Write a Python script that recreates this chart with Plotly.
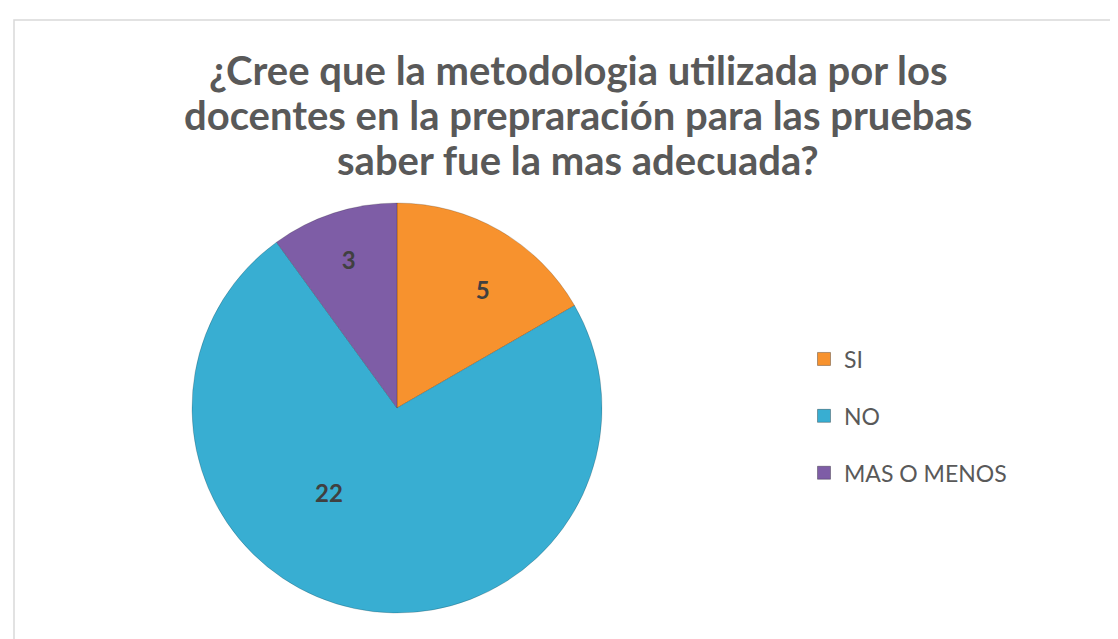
import plotly.graph_objects as go

# datos
categorias = ["SI", "NO", "MAS O MENOS"]
valores = [5, 22, 3]
colores = ["#F7922E", "#38AED2", "#7E5DA6"]

titulo_lineas = [
    "¿Cree que la metodologia utilizada por los",
    "docentes en la prepraración para las pruebas",
    "saber fue la mas adecuada?",
]

W, H = 1118, 639
NB = "\u00a0"

# desplazamientos de etiquetas para imitar la posición de Excel
plantillas = [
    NB * 6 + "%{value}",
    "%{value}" + NB * 16 + "<br>" + NB,
    "%{value}",
]

fig = go.Figure()

fig.add_trace(go.Pie(
    labels=categorias,
    values=valores,
    sort=False,
    direction="clockwise",
    rotation=0,
    marker=dict(colors=colores, line=dict(color="rgba(0,0,0,0.18)", width=1)),
    texttemplate=plantillas,
    textposition="inside",
    insidetextorientation="horizontal",
    textfont=dict(family="Lato", size=24, color="#404040", weight="bold"),
    domain=dict(x=[184 / W, 594 / W], y=[1 - 605 / H, 1 - 195 / H]),
    showlegend=False,
    hoverinfo="label+value+percent",
))

# leyenda con trazas auxiliares para controlar el espaciado
for cat, col in zip(categorias, colores):
    fig.add_trace(go.Scatter(
        x=[None], y=[None],
        mode="markers",
        name=cat,
        legendgroup=cat,
        marker=dict(symbol="square", size=13, color=col,
                    line=dict(color="rgba(0,0,0,0.3)", width=1)),
    ))

# título en tres líneas
anots = []
for i, linea in enumerate(titulo_lineas):
    anots.append(dict(
        text=linea, xref="paper", yref="paper",
        x=570 / W, y=1 - (62 + 45 * i) / H,
        xanchor="center", yanchor="middle", showarrow=False,
        font=dict(family="Lato", size=40, color="#595959", weight="bold"),
    ))

fig.update_layout(
    width=W,
    height=H,
    margin=dict(l=0, r=0, t=0, b=0),
    paper_bgcolor="white",
    plot_bgcolor="white",
    annotations=anots,
    xaxis=dict(visible=False, domain=[0.9, 0.95]),
    yaxis=dict(visible=False, domain=[0.9, 0.95]),
    legend=dict(
        x=796 / W,
        xanchor="left",
        y=1 - 408 / H,
        yanchor="middle",
        traceorder="grouped",
        tracegroupgap=24,
        font=dict(family="Lato", size=23, color="#595959"),
        itemwidth=30,
        bgcolor="rgba(0,0,0,0)",
    ),
    shapes=[dict(
        type="rect", xref="paper", yref="paper",
        x0=6 / W, x1=1.02, y0=-0.02, y1=1 - 12 / H,
        line=dict(color="#D9D9D9", width=1.5),
    )],
)

fig.write_html("out.html")
